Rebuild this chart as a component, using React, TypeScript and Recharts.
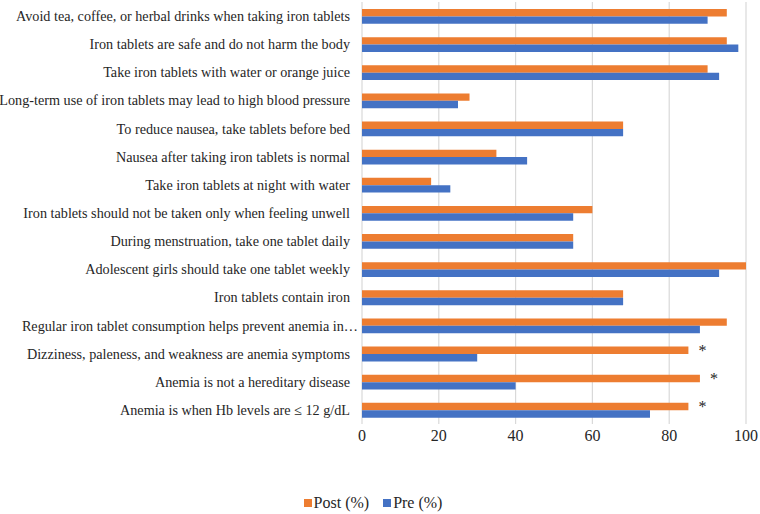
import React from 'react'
import { BarChart, Bar, XAxis, YAxis, CartesianGrid, Legend, LabelList } from 'recharts'

const statements = [
  'Avoid tea, coffee, or herbal drinks when taking iron tablets',
  'Iron tablets are safe and do not harm the body',
  'Take iron tablets with water or orange juice',
  'Long-term use of iron tablets may lead to high blood pressure',
  'To reduce nausea, take tablets before bed',
  'Nausea after taking iron tablets is normal',
  'Take iron tablets at night with water',
  'Iron tablets should not be taken only when feeling unwell',
  'During menstruation, take one tablet daily',
  'Adolescent girls should take one tablet weekly',
  'Iron tablets contain iron',
  'Regular iron tablet consumption helps prevent anemia in…',
  'Dizziness, paleness, and weakness are anemia symptoms',
  'Anemia is not a hereditary disease',
  'Anemia is when Hb levels are ≤ 12 g/dL',
]

const postPct = [95, 95, 90, 28, 68, 35, 18, 60, 55, 100, 68, 95, 85, 88, 85]
const prePct = [90, 98, 93, 25, 68, 43, 23, 55, 55, 93, 68, 88, 30, 40, 75]
const marks = ['', '', '', '', '', '', '', '', '', '', '', '', '*', '*', '*']

const xTicks = [0, 20, 40, 60, 80, 100]

const FONT = '"Liberation Serif", "Times New Roman", serif'
const TEXT = '#262626'
const POST = '#ED7D31'
const PRE = '#4472C4'

const data = statements.map((label, i) => ({
  label,
  post: postPct[i],
  pre: prePct[i],
  mark: marks[i],
}))

// single-line category label, right aligned (recharts would wrap it)
function StatementTick({ x, y, payload }: any) {
  const text: string = payload.value
  const dx = text.endsWith('…') ? 8 : 0
  return (
    <text x={x + dx} y={y} dy="0.35em" textAnchor="end" fill={TEXT} fontSize={14.2} fontFamily={FONT}>
      {text}
    </text>
  )
}

function LegendBox({ payload }: any) {
  return (
    <div style={{ display: 'flex', justifyContent: 'center', gap: 14, fontFamily: FONT, fontSize: 16, color: TEXT }}>
      {(payload || []).map((p: any) => (
        <span key={p.value} style={{ display: 'flex', alignItems: 'center', gap: 2 }}>
          <span style={{ width: 8, height: 8, background: p.color, display: 'inline-block' }} />
          {p.value}
        </span>
      ))}
    </div>
  )
}

export default function App() {
  return (
    <div style={{ position: 'absolute', left: 0, top: 0, width: 760, height: 514, background: '#fff' }}>
      <BarChart
        width={760}
        height={514}
        data={data}
        layout="vertical"
        margin={{ top: 2, right: 14, left: 0, bottom: 0 }}
        barGap={0}
        style={{ fontFamily: FONT }}
      >
        <CartesianGrid horizontal={false} stroke="#d9d9d9" strokeWidth={1.2} />
        <XAxis
          type="number"
          domain={[0, 100]}
          ticks={xTicks}
          axisLine={false}
          tickLine={false}
          tickMargin={0}
          height={72}
          tick={{ fill: TEXT, fontSize: 16, fontFamily: FONT }}
        />
        <YAxis
          type="category"
          dataKey="label"
          width={362}
          interval={0}
          axisLine={false}
          tickLine={false}
          tickMargin={6}
          tick={<StatementTick />}
        />
        <Legend verticalAlign="bottom" content={<LegendBox />} wrapperStyle={{ bottom: 2 }} />
        <Bar dataKey="post" name="Post (%)" fill={POST} barSize={7.4} isAnimationActive={false}>
          <LabelList dataKey="mark" position="right" offset={10} fill={TEXT} fontSize={16} fontFamily={FONT} />
        </Bar>
        <Bar dataKey="pre" name="Pre (%)" fill={PRE} barSize={7.4} isAnimationActive={false} />
      </BarChart>
    </div>
  )
}
